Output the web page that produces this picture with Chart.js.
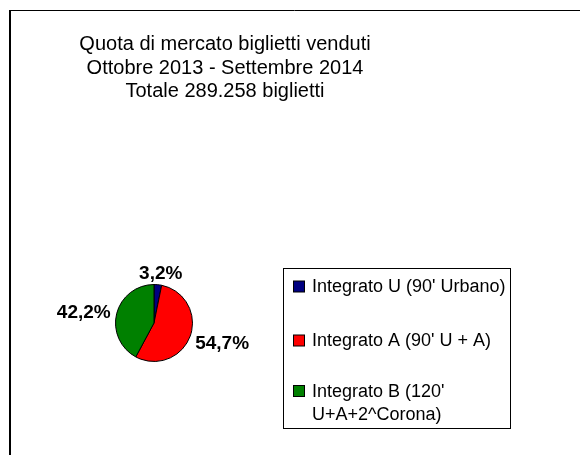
<!DOCTYPE html>
<html>
<head>
<meta charset="utf-8">
<script src="https://cdn.jsdelivr.net/npm/chart.js@4"></script>
<style>
    html, body { margin: 0; padding: 0; background: #fff; }
    canvas { display: block; }
</style>
</head>
<body>
<canvas id="share-chart" width="580" height="455"></canvas>
<script>
// Chart data
const titleLines = [
    'Quota di mercato biglietti venduti',
    'Ottobre 2013 - Settembre 2014',
    'Totale 289.258 biglietti'
];
const categories = [
    ["Integrato U (90' Urbano)"],
    ["Integrato A (90' U + A)"],
    ["Integrato B (120'", "U+A+2^Corona)"]
];
const shares = [3.2, 54.7, 42.2];
const sliceColors = ['#000080', '#ff0000', '#008000'];

const FONT = '"Liberation Sans", Arial, sans-serif';

// Format share as Italian percentage (3,2%)
function formatShare(value) {
    return value.toFixed(1).replace('.', ',') + '%';
}

// Frame + title
const framePlugin = {
    id: 'frame',
    beforeDraw(chart) {
        const ctx = chart.ctx;
        ctx.save();
        ctx.fillStyle = '#fff';
        ctx.fillRect(0, 0, chart.width, chart.height);
        ctx.strokeStyle = '#000';
        ctx.lineWidth = 1;
        ctx.beginPath();
        ctx.moveTo(9, 10.5);
        ctx.lineTo(chart.width, 10.5);
        ctx.stroke();
        ctx.lineWidth = 2;
        ctx.beginPath();
        ctx.moveTo(10, 10);
        ctx.lineTo(10, chart.height);
        ctx.stroke();

        ctx.fillStyle = '#000';
        ctx.font = '20px ' + FONT;
        ctx.textAlign = 'center';
        ctx.textBaseline = 'alphabetic';
        titleLines.forEach((line, i) => {
            ctx.fillText(line, 225, 50 + i * 23.5);
        });
        ctx.restore();
    }
};

// Percentage labels outside the slices
const sliceLabelPlugin = {
    id: 'sliceLabels',
    afterDatasetsDraw(chart) {
        const ctx = chart.ctx;
        const meta = chart.getDatasetMeta(0);
        const size = 19;
        ctx.save();
        ctx.font = 'bold ' + size + 'px ' + FONT;
        ctx.fillStyle = '#000';
        ctx.textAlign = 'center';
        ctx.textBaseline = 'alphabetic';
        meta.data.forEach((arc, i) => {
            const p = arc.getProps(['x', 'y', 'startAngle', 'endAngle', 'outerRadius'], true);
            const mid = (p.startAngle + p.endAngle) / 2;
            const dx = Math.cos(mid);
            const dy = Math.sin(mid);
            const r = p.outerRadius + 7;
            const text = formatShare(shares[i]);
            const w = ctx.measureText(text).width;
            const h = size * 0.72;
            const cx = p.x + dx * r + dx * w / 2;
            const cy = p.y + dy * r + dy * h / 2;
            ctx.fillText(text, cx, cy + h / 2 + 1);
        });
        ctx.restore();
    }
};

// Boxed legend to the right of the pie
const boxLegendPlugin = {
    id: 'boxLegend',
    afterDraw(chart) {
        const ctx = chart.ctx;
        const box = { x: 283.5, y: 268.5, w: 227, h: 160 };
        const rowY = [286.5, 340.5, 391];
        ctx.save();
        ctx.strokeStyle = '#000';
        ctx.lineWidth = 1;
        ctx.strokeRect(box.x, box.y, box.w, box.h);

        ctx.font = '18px ' + FONT;
        ctx.textAlign = 'left';
        ctx.textBaseline = 'middle';
        categories.forEach((lines, i) => {
            ctx.fillStyle = sliceColors[i];
            ctx.fillRect(293.5, rowY[i] - 5.5, 11, 11);
            ctx.strokeRect(293.5, rowY[i] - 5.5, 11, 11);
            ctx.fillStyle = '#000';
            lines.forEach((line, j) => {
                ctx.fillText(line, 312, rowY[i] + 1 + j * 23);
            });
        });
        ctx.restore();
    }
};

new Chart(document.getElementById('share-chart'), {
    type: 'pie',
    data: {
        labels: categories,
        datasets: [{
            data: shares,
            backgroundColor: sliceColors,
            borderColor: '#000',
            borderWidth: 1
        }]
    },
    options: {
        responsive: false,
        animation: false,
        layout: {
            padding: { left: 115, right: 387, top: 284, bottom: 93 }
        },
        plugins: {
            legend: { display: false },
            tooltip: { enabled: false },
            title: { display: false }
        }
    },
    plugins: [framePlugin, sliceLabelPlugin, boxLegendPlugin]
});
</script>
</body>
</html>
